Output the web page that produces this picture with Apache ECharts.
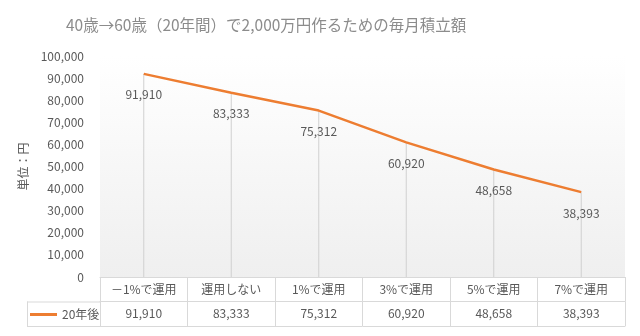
<!DOCTYPE html>
<html>
<head>
<meta charset="utf-8">
<script src="https://cdn.jsdelivr.net/npm/echarts@6/dist/echarts.min.js"></script>
<style>
  html, body { margin: 0; padding: 0; background: #fff; }
  #chart { width: 640px; height: 336px; }
</style>
</head>
<body>
<div id="chart"></div>
<script>
// 運用利回り別：20年間で2,000万円を作るための毎月積立額
const categories = ['－1%で運用', '運用しない', '1%で運用', '3%で運用', '5%で運用', '7%で運用'];
const monthlyAmounts = [91910, 83333, 75312, 60920, 48658, 38393];
const seriesName = '20年後';
const yTicks = { min: 0, max: 100000, interval: 10000 };

const FONT = '"Noto Sans CJK JP", "Noto Sans", sans-serif';
const TEXT = '#595959';
const BORDER = '#d9d9d9';
const LINE = '#ED7D31';

const grid = { left: 100, right: 15, top: 56, bottom: 59 };
const rowH = 24.5;
const tableLeft = 27;
const axisY = 336 - grid.bottom;

const fmt = v => v.toLocaleString('en-US');

const chart = echarts.init(document.getElementById('chart'));

const tableAxis = (offset, labels, showTick) => ({
  type: 'category',
  position: 'bottom',
  gridIndex: 0,
  offset: offset,
  data: labels,
  boundaryGap: true,
  axisLine: { show: true, lineStyle: { color: BORDER, width: 1 } },
  axisTick: { show: showTick, interval: 0, length: rowH, inside: false, lineStyle: { color: BORDER } },
  axisLabel: { show: true, interval: 0, margin: 6, color: TEXT, fontSize: 12, fontFamily: FONT },
  axisPointer: { show: false }
});

chart.setOption({
  animation: false,
  backgroundColor: '#ffffff',
  textStyle: { fontFamily: FONT },
  title: {
    text: '40歳→60歳（20年間）で2,000万円作るための毎月積立額',
    left: 61,
    top: 12,
    textStyle: { color: '#8c8c8c', fontSize: 15.5, fontWeight: 'normal', fontFamily: FONT }
  },
  legend: {
    data: [seriesName],
    left: tableLeft - 2,
    top: axisY + rowH + 2,
    icon: 'rect',
    itemWidth: 27,
    itemHeight: 3,
    itemGap: 4,
    textStyle: { color: TEXT, fontSize: 12, fontFamily: FONT }
  },
  grid: Object.assign({
    show: true,
    borderWidth: 0,
    backgroundColor: new echarts.graphic.LinearGradient(0, 0, 0, 1, [
      { offset: 0, color: '#ffffff' },
      { offset: 1, color: '#efefef' }
    ])
  }, grid),
  xAxis: [
    tableAxis(0, categories, true),
    tableAxis(rowH, monthlyAmounts.map(fmt), true),
    Object.assign(tableAxis(rowH * 2, categories, false), { axisLabel: { show: false } })
  ],
  yAxis: {
    type: 'value',
    min: yTicks.min,
    max: yTicks.max,
    interval: yTicks.interval,
    name: '単位：円',
    nameLocation: 'middle',
    nameRotate: 90,
    nameGap: 70,
    nameTextStyle: { color: TEXT, fontSize: 12, fontFamily: FONT },
    axisLine: { show: false },
    axisTick: { show: false },
    splitLine: { show: false },
    axisLabel: { color: TEXT, fontSize: 12, fontFamily: FONT, margin: 16, formatter: v => fmt(v) }
  },
  graphic: [
    // 凡例セルの枠線（表の左端の列）
    { type: 'line', silent: true, shape: { x1: tableLeft, y1: axisY + rowH + 0.5, x2: grid.left, y2: axisY + rowH + 0.5 }, style: { stroke: BORDER, lineWidth: 1 } },
    { type: 'line', silent: true, shape: { x1: tableLeft, y1: axisY + rowH * 2 + 0.5, x2: grid.left, y2: axisY + rowH * 2 + 0.5 }, style: { stroke: BORDER, lineWidth: 1 } },
    { type: 'line', silent: true, shape: { x1: tableLeft + 0.5, y1: axisY + rowH, x2: tableLeft + 0.5, y2: axisY + rowH * 2 }, style: { stroke: BORDER, lineWidth: 1 } }
  ],
  series: [
    {
      // 各点から横軸までの降下線
      type: 'bar',
      xAxisIndex: 0,
      data: monthlyAmounts,
      barWidth: 1,
      itemStyle: { color: '#d0d0d0' },
      silent: true,
      z: 1,
      legendHoverLink: false,
      tooltip: { show: false }
    },
    {
      name: seriesName,
      type: 'line',
      xAxisIndex: 0,
      data: monthlyAmounts,
      showSymbol: true,
      symbol: 'circle',
      symbolSize: 0,
      lineStyle: { color: LINE, width: 2.5 },
      itemStyle: { color: LINE },
      z: 3,
      label: {
        show: true,
        position: 'bottom',
        distance: 15,
        color: TEXT,
        fontSize: 12,
        fontFamily: FONT,
        formatter: p => fmt(p.value)
      }
    }
  ]
});
</script>
</body>
</html>
